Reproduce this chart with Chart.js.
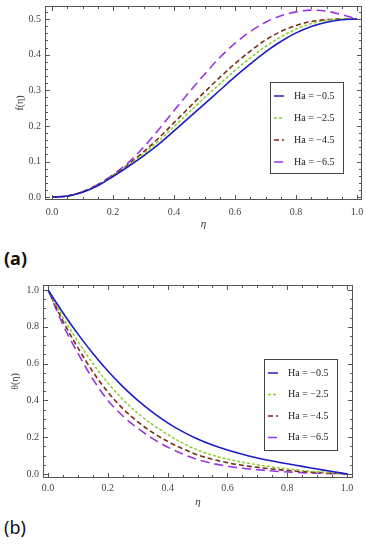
<!DOCTYPE html>
<html>
<head>
<meta charset="utf-8">
<script src="https://cdn.jsdelivr.net/npm/chart.js@4.4.1/dist/chart.umd.min.js"></script>
<style>
  body { margin: 0; background: #fff; width: 366px; height: 550px; position: relative; overflow: hidden; }
  canvas { position: absolute; left: 0; }
  #chartA { top: 0; }
  #chartB { top: 270px; }
  .tag { position: absolute; left: 4px; font-family: 'Noto Sans', sans-serif; font-size: 18px; color: #111; }
</style>
</head>
<body>
<canvas id="chartA" width="366" height="240" style="width:366px;height:240px"></canvas>
<div class="tag" style="top:246px;font-weight:bold">(a)</div>
<canvas id="chartB" width="366" height="240" style="width:366px;height:240px"></canvas>
<div class="tag" style="top:515px">(b)</div>
<script>
// eta grid shared by both panels
const eta = [0, 0.05, 0.1, 0.15, 0.2, 0.25, 0.3, 0.35, 0.4, 0.45, 0.5,
  0.55, 0.6, 0.65, 0.7, 0.75, 0.8, 0.85, 0.9, 0.95, 1]
const haLabels = ['Ha = \u22120.5', 'Ha = \u22122.5', 'Ha = \u22124.5', 'Ha = \u22126.5']

// (a) f(eta)
const fHa05 = [0, 0.003, 0.014, 0.032, 0.058, 0.086, 0.116, 0.149, 0.186, 0.224, 0.262,
  0.3, 0.338, 0.374, 0.408, 0.437, 0.461, 0.479, 0.491, 0.498, 0.5]
const fHa25 = [0, 0.003, 0.014, 0.033, 0.06, 0.089, 0.122, 0.158, 0.198, 0.239, 0.279,
  0.318, 0.356, 0.391, 0.423, 0.45, 0.472, 0.487, 0.496, 0.5, 0.5]
const fHa45 = [0, 0.003, 0.015, 0.034, 0.061, 0.092, 0.127, 0.166, 0.209, 0.252, 0.295,
  0.336, 0.375, 0.41, 0.441, 0.465, 0.482, 0.493, 0.498, 0.5, 0.5]
const fHa65 = [0, 0.003, 0.015, 0.036, 0.063, 0.097, 0.14, 0.19, 0.243, 0.295, 0.345,
  0.392, 0.432, 0.465, 0.491, 0.509, 0.52, 0.525, 0.522, 0.512, 0.5]

// (b) theta(eta)
const tHa05 = [1, 0.875, 0.76, 0.655, 0.56, 0.475, 0.4, 0.335, 0.278, 0.23, 0.19,
  0.157, 0.13, 0.107, 0.087, 0.07, 0.055, 0.041, 0.027, 0.013, 0]
const tHa25 = [1, 0.85, 0.72, 0.6, 0.495, 0.405, 0.33, 0.268, 0.215, 0.168, 0.13,
  0.102, 0.081, 0.064, 0.05, 0.038, 0.028, 0.019, 0.012, 0.006, 0]
const tHa45 = [1, 0.83, 0.685, 0.555, 0.445, 0.355, 0.283, 0.225, 0.177, 0.137, 0.104,
  0.08, 0.061, 0.047, 0.036, 0.027, 0.019, 0.013, 0.008, 0.004, 0]
const tHa65 = [1, 0.81, 0.655, 0.515, 0.4, 0.315, 0.248, 0.192, 0.146, 0.108, 0.078,
  0.057, 0.042, 0.031, 0.023, 0.016, 0.011, 0.007, 0.004, 0.002, 0]

const xTicks = [0, 0.2, 0.4, 0.6, 0.8, 1]
const fTicks = [0, 0.1, 0.2, 0.3, 0.4, 0.5]
const tTicks = [0, 0.2, 0.4, 0.6, 0.8, 1]

const lineColors = ['#1c1cc8', '#86cf2c', '#7a2c14', '#9a36e6']
const lineDashes = [[], [3, 2], [5, 3], [9, 5]]
const lineWidths = [1.6, 1.5, 1.6, 1.6]

const serif = "'Liberation Serif', 'DejaVu Serif', serif"

// frame with inward major + minor ticks on all four sides
const frameTicks = {
  id: 'frameTicks',
  afterDatasetsDraw (chart, args, o) {
    const ctx = chart.ctx
    const a = chart.chartArea
    const sx = chart.scales.x
    const sy = chart.scales.y
    ctx.save()
    ctx.strokeStyle = '#555'
    ctx.lineWidth = 1
    ctx.setLineDash([])
    ctx.strokeRect(Math.round(a.left) + 0.5, Math.round(a.top) + 0.5,
      Math.round(a.width) - 1, Math.round(a.height) - 1)
    ctx.beginPath()
    let i
    for (i = Math.ceil(sx.min / o.xMinor - 1e-9); i * o.xMinor <= sx.max + 1e-9; i++) {
      const v = i * o.xMinor
      const len = Math.abs(v / o.xMajor - Math.round(v / o.xMajor)) < 1e-6 ? 5 : 3
      const px = Math.round(sx.getPixelForValue(v)) + 0.5
      ctx.moveTo(px, a.bottom); ctx.lineTo(px, a.bottom - len)
      ctx.moveTo(px, a.top); ctx.lineTo(px, a.top + len)
    }
    for (i = Math.ceil(sy.min / o.yMinor - 1e-9); i * o.yMinor <= sy.max + 1e-9; i++) {
      const v = i * o.yMinor
      const len = Math.abs(v / o.yMajor - Math.round(v / o.yMajor)) < 1e-6 ? 5 : 3
      const py = Math.round(sy.getPixelForValue(v)) + 0.5
      ctx.moveTo(a.left, py); ctx.lineTo(a.left + len, py)
      ctx.moveTo(a.right, py); ctx.lineTo(a.right - len, py)
    }
    ctx.stroke()
    ctx.restore()
  }
}

// boxed legend placed inside the plot
const boxLegend = {
  id: 'boxLegend',
  afterDraw (chart, args, o) {
    const ctx = chart.ctx
    ctx.save()
    ctx.fillStyle = '#fff'
    ctx.fillRect(o.x, o.y, o.w, o.h)
    ctx.strokeStyle = '#444'
    ctx.lineWidth = 1
    ctx.setLineDash([])
    ctx.strokeRect(o.x + 0.5, o.y + 0.5, o.w, o.h)
    ctx.font = '10px ' + serif
    ctx.textBaseline = 'middle'
    chart.data.datasets.forEach(function (ds, k) {
      const y = o.y + o.first + k * o.row
      ctx.strokeStyle = ds.borderColor
      ctx.lineWidth = 1.5
      ctx.setLineDash(ds.borderDash)
      ctx.beginPath()
      ctx.moveTo(o.x + 4, y)
      ctx.lineTo(o.x + 14, y)
      ctx.stroke()
      ctx.fillStyle = '#222'
      ctx.fillText(ds.label, o.x + o.textX, y)
    })
    ctx.restore()
  }
}

function makeChart (id, series, cfg) {
  const datasets = series.map(function (vals, k) {
    return {
      label: haLabels[k],
      data: vals.map(function (v, j) { return { x: eta[j], y: v } }),
      borderColor: lineColors[k],
      borderDash: lineDashes[k],
      borderWidth: lineWidths[k],
      pointRadius: 0,
      fill: false,
      cubicInterpolationMode: 'monotone'
    }
  })
  const tickFont = { family: serif, size: 10 }
  return new Chart(document.getElementById(id), {
    type: 'line',
    data: { datasets: datasets },
    options: {
      responsive: false,
      animation: false,
      layout: { padding: cfg.padding },
      plugins: {
        legend: { display: false },
        tooltip: { enabled: false },
        frameTicks: cfg.frame,
        boxLegend: cfg.legend
      },
      scales: {
        x: {
          type: 'linear',
          min: cfg.xMin,
          max: cfg.xMax,
          afterBuildTicks: function (s) { s.ticks = xTicks.map(function (v) { return { value: v } }) },
          afterFit: function (s) { s.height = cfg.xHeight; s.paddingLeft = 0; s.paddingRight = 0 },
          grid: { display: false, drawTicks: false },
          border: { display: false },
          ticks: {
            color: '#444',
            font: tickFont,
            padding: cfg.xPad,
            maxRotation: 0,
            callback: function (v) { return v.toFixed(1) }
          },
          title: {
            display: true,
            text: '\u03b7',
            color: '#333',
            font: { family: serif, size: 11, style: 'italic' },
            padding: cfg.xTitlePad
          }
        },
        y: {
          type: 'linear',
          min: cfg.yMin,
          max: cfg.yMax,
          afterBuildTicks: function (s) { s.ticks = cfg.yTicks.map(function (v) { return { value: v } }) },
          afterFit: function (s) { s.width = cfg.yWidth; s.paddingTop = 0; s.paddingBottom = 0 },
          grid: { display: false, drawTicks: false },
          border: { display: false },
          ticks: {
            color: '#444',
            font: tickFont,
            padding: 4,
            callback: function (v) { return v.toFixed(1) }
          },
          title: {
            display: true,
            text: cfg.yTitle,
            color: '#333',
            font: { family: serif, size: 10 },
            padding: cfg.yTitlePad
          }
        }
      }
    },
    plugins: [frameTicks, boxLegend]
  })
}

makeChart('chartA', [fHa05, fHa25, fHa45, fHa65], {
  padding: { top: 6, right: 4, left: 0, bottom: 0 },
  xMin: -0.023, xMax: 1.016, yMin: -0.008, yMax: 0.5365,
  yTicks: fTicks,
  xHeight: 40, yWidth: 45,
  xPad: 6, xTitlePad: { top: 4, bottom: 9 },
  yTitle: 'f(\u03b7)', yTitlePad: { top: 14, bottom: 0 },
  frame: { xMinor: 0.05, xMajor: 0.2, yMinor: 0.02, yMajor: 0.1 },
  legend: { x: 270, y: 82, w: 73, h: 91, first: 14, row: 22, textX: 24 }
})

makeChart('chartB', [tHa05, tHa25, tHa45, tHa65], {
  padding: { top: 15, right: 13, left: 0, bottom: 0 },
  xMin: -0.017, xMax: 1.02, yMin: -0.022, yMax: 1.027,
  yTicks: tTicks,
  xHeight: 32, yWidth: 43,
  xPad: 4, xTitlePad: { top: 2, bottom: 1 },
  yTitle: '\u03b8(\u03b7)', yTitlePad: { top: 9, bottom: 0 },
  frame: { xMinor: 0.05, xMajor: 0.2, yMinor: 0.05, yMajor: 0.2 },
  legend: { x: 264, y: 89, w: 73, h: 91, first: 14, row: 21.5, textX: 24 }
})
</script>
</body>
</html>
